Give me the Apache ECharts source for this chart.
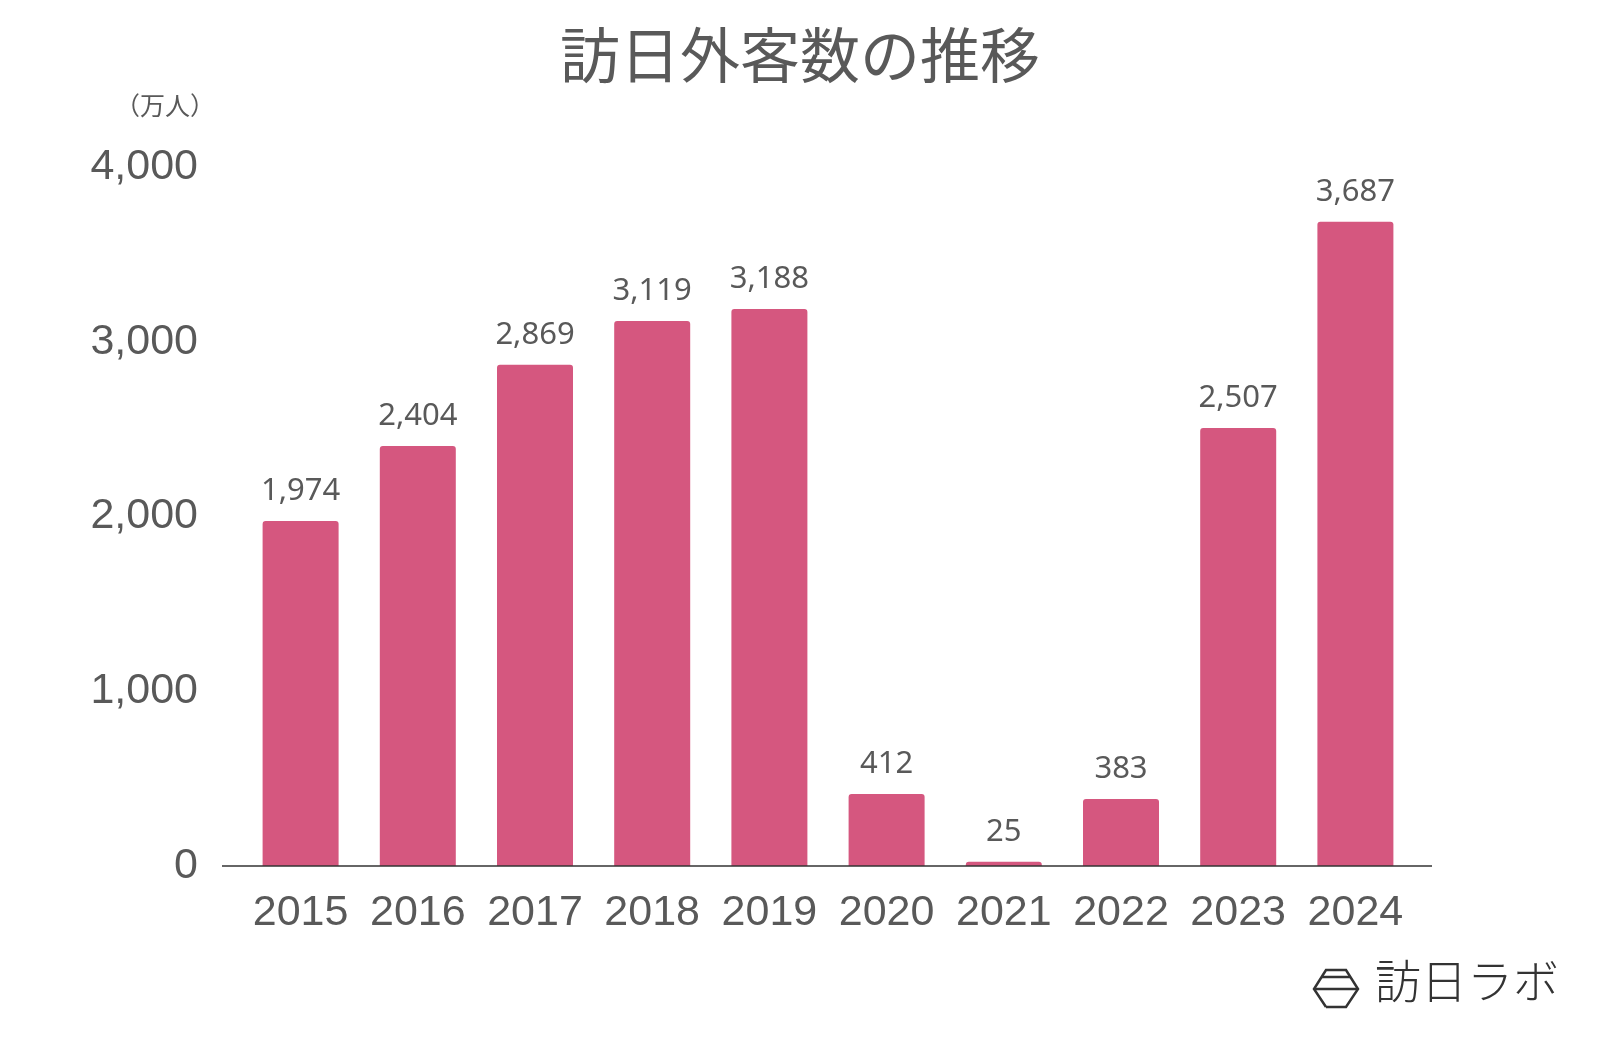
<!DOCTYPE html>
<html>
<head>
<meta charset="utf-8">
<script src="https://cdn.jsdelivr.net/npm/echarts@6/dist/echarts.min.js"></script>
<style>html,body{margin:0;padding:0;background:#fff}#main{width:1600px;height:1048px}</style>
</head>
<body>
<div id="main"></div>
<script>
var years = ['2015', '2016', '2017', '2018', '2019', '2020', '2021', '2022', '2023', '2024'];
var visitors = [1974, 2404, 2869, 3119, 3188, 412, 25, 383, 2507, 3687];

var chart = echarts.init(document.getElementById('main'));
chart.setOption({
	animation: false,
	title: {
		text: '訪日外客数の推移',
		left: 'center',
		top: 20,
		textStyle: { fontSize: 60, fontWeight: 'normal', color: '#595959', fontFamily: 'Noto Sans CJK JP' }
	},
	grid: { left: 242, right: 186, top: 167, bottom: 182 },
	xAxis: {
		type: 'category',
		data: years,
		axisTick: { show: false },
		axisLine: { show: false },
		axisLabel: { interval: 0, hideOverlap: false, fontSize: 43, color: '#595959', margin: 26, fontFamily: 'Liberation Sans' }
	},
	yAxis: {
		type: 'value',
		min: 0, max: 4000, interval: 1000,
		splitLine: { show: false },
		axisLabel: {
			fontSize: 43, color: '#595959', margin: 44, fontFamily: 'Liberation Sans',
			formatter: function (v) { return v.toLocaleString('en-US'); }
		}
	},
	series: [{
		type: 'bar',
		data: visitors,
		barWidth: 76,
		itemStyle: { color: '#d5577f', borderRadius: [3, 3, 0, 0] },
		label: {
			show: true, position: 'top', distance: 14,
			fontSize: 31, color: '#595959', fontFamily: 'Noto Sans',
			formatter: function (p) { return p.value.toLocaleString('en-US'); }
		}
	}],
	graphic: [
		{ type: 'line', z: 10, shape: { x1: 222, y1: 866, x2: 1432, y2: 866 }, style: { stroke: '#333', lineWidth: 1.5 } },
		{
			type: 'text', left: 115, top: 93,
			style: { text: '（万人）', fontSize: 25, fill: '#595959', fontFamily: 'Noto Sans CJK JP' }
		},
		{
			type: 'polyline',
			shape: { points: [[1326, 1007], [1314, 989], [1326, 970], [1346, 970], [1358, 989], [1346, 1007], [1326, 1007]] },
			style: { stroke: '#333', lineWidth: 2.5, fill: null }
		},
		{ type: 'line', shape: { x1: 1314, y1: 989, x2: 1358, y2: 989 }, style: { stroke: '#333', lineWidth: 2.5 } },
		{ type: 'line', shape: { x1: 1322, y1: 977, x2: 1350, y2: 977 }, style: { stroke: '#333', lineWidth: 2.5 } },
		{
			type: 'text', left: 1375, top: 958,
			style: { text: '訪日ラボ', fontSize: 46, fill: '#333', fontFamily: 'Noto Sans CJK JP', fontWeight: 300 }
		}
	]
});
</script>
</body>
</html>
